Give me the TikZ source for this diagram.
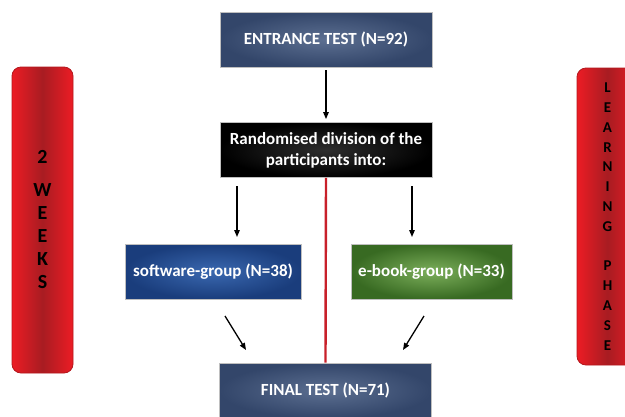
\documentclass[tikz,border=0pt]{standalone}
\usepackage{fontspec}
\setmainfont{Carlito}
\usetikzlibrary{arrows.meta}
\definecolor{slateO}{HTML}{33466A}
\definecolor{slateI}{HTML}{5C6F91}
\definecolor{blueO}{HTML}{1A3D7C}
\definecolor{blueI}{HTML}{3A68B0}
\definecolor{greenO}{HTML}{386A22}
\definecolor{greenI}{HTML}{7CAF5B}
\definecolor{redE}{HTML}{EC1C24}
\definecolor{redM}{HTML}{A81C22}
\definecolor{redB}{HTML}{B3171D}
\definecolor{divline}{HTML}{C8202A}
\tikzset{
  box/.style={draw=gray!50, line width=0.8pt, minimum width=212pt, minimum height=55pt,
    inner sep=0pt, text=white, font=\bfseries\fontsize{17}{21}\selectfont, align=center},
  grpbox/.style={box, minimum width=176pt},
  slatebox/.style={box, inner color=slateI, outer color=slateO},
  bar/.style={draw=redB, line width=0.8pt, rounded corners=9pt, minimum width=61pt,
    inner sep=0pt, left color=redE, right color=redE, middle color=redM, align=center, text=black},
  arr/.style={line width=1.3pt, -{Triangle[length=7pt,width=5.5pt]}},
}
\begin{document}
\begin{tikzpicture}[x=1pt,y=-1pt]
\useasboundingbox (0,0) rectangle (625,416);
\clip (0,0) rectangle (625,416);
% side bars
\node[bar, minimum height=306pt, font=\bfseries\fontsize{20}{23}\selectfont] (weeks) at (42.5,220)
  {2\\[10pt]W\\E\\E\\K\\S};
\node[bar, minimum height=297pt, font=\bfseries\fontsize{15}{19.8}\selectfont] (phase) at (607.5,216.5)
  {L\\E\\A\\R\\N\\I\\N\\G\\[19.8pt]P\\H\\A\\S\\E};
% boxes
\node[slatebox] (entr) at (326,39.5) {ENTRANCE TEST (N=92)};
\node[box, inner color=black!82, outer color=black] (rand) at (326,150) {Randomised division of the\\participants into:};
\node[grpbox, inner color=blueI, outer color=blueO] (soft) at (213,271.5) {software-group (N=38)};
\node[grpbox, minimum width=161pt, inner color=greenI, outer color=greenO] (ebook) at (431.5,271.5) {e-book-group (N=33)};
\node[slatebox] (final) at (325.5,390.5) {FINAL TEST (N=71)};
% connectors
\draw[divline, line width=2.4pt] (rand.south) -- (final.north);
\draw[arr, shorten <=3pt, shorten >=3pt] (entr.south) -- (rand.north);
\coordinate (la) at (237,186);
\coordinate (lb) at (237,237);
\coordinate (ra) at (412,186);
\coordinate (rb) at (412,237);
\draw[arr] (la) -- (lb);
\draw[arr] (ra) -- (rb);
\coordinate (ld1) at (225,316);
\coordinate (ld2) at (246,350);
\coordinate (rd1) at (424,316);
\coordinate (rd2) at (403,350);
\draw[arr] (ld1) -- (ld2);
\draw[arr] (rd1) -- (rd2);
\end{tikzpicture}
\end{document}
